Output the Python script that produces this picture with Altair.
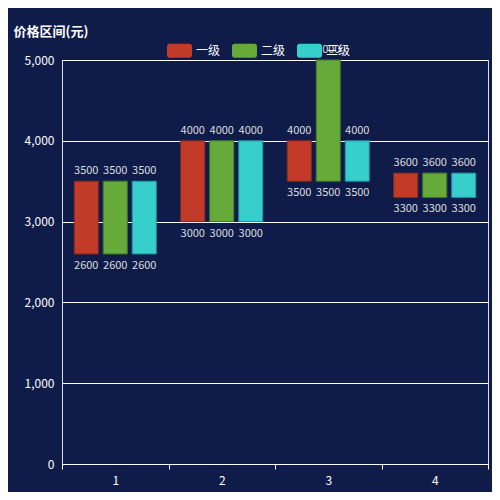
import altair as alt
import pandas as pd

categories = ["1", "2", "3", "4"]
series = ["一级", "二级", "三级"]
low_1 = [2600, 3000, 3500, 3300]
high_1 = [3500, 4000, 4000, 3600]
low_2 = [2600, 3000, 3500, 3300]
high_2 = [3500, 4000, 5000, 3600]
low_3 = [2600, 3000, 3500, 3300]
high_3 = [3500, 4000, 4000, 3600]

rows = []
for s, lo, hi in zip(series, [low_1, low_2, low_3], [high_1, high_2, high_3]):
    for c, a, b in zip(categories, lo, hi):
        rows.append({"cat": c, "series": s, "low": a, "high": b})
df = pd.DataFrame(rows)

colors = ["#c23b29", "#66ab3a", "#36cfcb"]
strokes = ["#8a2a20", "#477a28", "#2790a0"]

rr = ("M-0.8,-0.56 L0.8,-0.56 A0.2,0.2 0 0 1 1,-0.36 L1,0.36 A0.2,0.2 0 0 1 0.8,0.56 "
      "L-0.8,0.56 A0.2,0.2 0 0 1 -1,0.36 L-1,-0.36 A0.2,0.2 0 0 1 -0.8,-0.56 Z")

x = alt.X("cat:N", sort=categories, title=None,
          scale=alt.Scale(paddingInner=0, paddingOuter=0),
          axis=alt.Axis(labelAngle=0, labelColor="#ffffff", labelFontSize=12,
                        domainColor="#ffffff", tickColor="#ffffff", tickBand="extent",
                        tickSize=5, labelPadding=6, grid=False))
xo = alt.XOffset("series:N", sort=series,
                 scale=alt.Scale(paddingInner=0.172, paddingOuter=0.422))

base = alt.Chart(df).encode(x=x, xOffset=xo)

bars = base.mark_bar(strokeWidth=1).encode(
    y=alt.Y("low:Q", scale=alt.Scale(domain=[0, 5000]),
            axis=alt.Axis(values=[0, 1000, 2000, 3000, 4000, 5000], format=",d",
                          labelColor="#ffffff", labelFontSize=12, labelPadding=8,
                          domain=False, ticks=False, gridColor="#ffffff", gridOpacity=1,
                          title="价格区间(元)", titleAngle=0, titleAlign="left",
                          titleBaseline="middle", titleX=-49, titleY=-29,
                          titleColor="#ffffff", titleFontSize=13, titleFontWeight="bold")),
    y2="high:Q",
    color=alt.Color("series:N", sort=series,
                    scale=alt.Scale(domain=series, range=colors),
                    legend=alt.Legend(title=None, orient="none", direction="horizontal",
                                      legendX=105, legendY=-22, symbolType=rr,
                                      symbolSize=625, symbolOpacity=1, symbolStrokeWidth=0,
                                      labelColor="#ffffff", labelFontSize=12,
                                      columnPadding=11, labelOffset=4, padding=0)),
    stroke=alt.Stroke("series:N", sort=series,
                      scale=alt.Scale(domain=series, range=strokes), legend=None),
)

top_text = base.mark_text(baseline="bottom", dy=-5, color="#dddddd", fontSize=11).encode(
    y="high:Q", text="high:Q")
bot_text = base.mark_text(baseline="top", dy=6, color="#dddddd", fontSize=11).encode(
    y="low:Q", text="low:Q")

chart = alt.layer(bars, top_text, bot_text).properties(
    width=426, height=404,
    background="#0f1c4a",
    autosize=alt.AutoSizeParams(type="none"),
    padding={"left": 54, "top": 52, "right": 4, "bottom": 28},
).configure_view(stroke=None).configure(font="Microsoft YaHei, Noto Sans CJK SC, sans-serif")

chart.save("out.html", embed_options={"renderer": "svg", "actions": False})
